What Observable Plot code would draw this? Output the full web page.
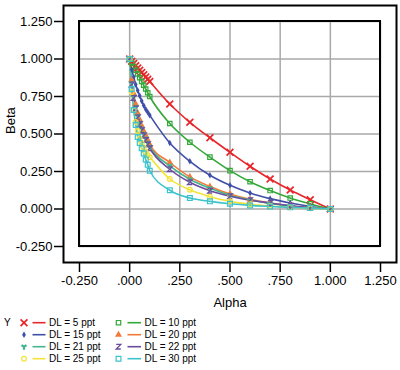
<!DOCTYPE html>
<html><head><meta charset="utf-8">
<script src="https://cdn.jsdelivr.net/npm/d3@7"></script>
<script src="https://cdn.jsdelivr.net/npm/@observablehq/plot@0.6"></script>
<style>body{margin:0;background:#fff;} #chart svg{display:block}</style>
</head><body><div id="chart"></div>
<script>
// ---- data ----
const alphas = [0, 0.01, 0.02, 0.03, 0.04, 0.05, 0.06, 0.07, 0.08, 0.09, 0.1, 0.2, 0.3, 0.4, 0.5, 0.6, 0.7, 0.8, 0.9, 1.0];
const seriesNames = ["DL = 5 ppt", "DL = 10 ppt", "DL = 15 ppt", "DL = 20 ppt", "DL = 21 ppt", "DL = 22 ppt", "DL = 25 ppt", "DL = 30 ppt"];
const beta5  = [1, 0.985, 0.97, 0.955, 0.94, 0.925, 0.91, 0.895, 0.88, 0.865, 0.85, 0.70, 0.578, 0.475, 0.378, 0.285, 0.20, 0.127, 0.062, 0];
const beta10 = [1, 0.975, 0.95, 0.925, 0.90, 0.875, 0.85, 0.825, 0.80, 0.775, 0.75, 0.57, 0.445, 0.346, 0.256, 0.182, 0.123, 0.073, 0.034, 0];
const beta15 = [1, 0.93, 0.88, 0.83, 0.79, 0.755, 0.72, 0.69, 0.665, 0.645, 0.625, 0.44, 0.318, 0.225, 0.158, 0.107, 0.069, 0.04, 0.017, 0];
const beta20 = [1, 0.86, 0.77, 0.70, 0.64, 0.595, 0.555, 0.52, 0.49, 0.46, 0.43, 0.31, 0.214, 0.15, 0.10, 0.064, 0.04, 0.022, 0.009, 0];
const beta21 = [1, 0.84, 0.75, 0.68, 0.62, 0.575, 0.535, 0.50, 0.47, 0.44, 0.415, 0.288, 0.198, 0.138, 0.092, 0.06, 0.037, 0.02, 0.008, 0];
const beta22 = [1, 0.83, 0.74, 0.67, 0.61, 0.565, 0.525, 0.49, 0.46, 0.43, 0.405, 0.265, 0.178, 0.122, 0.085, 0.058, 0.04, 0.022, 0.009, 0];
const beta25 = [1, 0.78, 0.66, 0.58, 0.52, 0.47, 0.44, 0.41, 0.38, 0.36, 0.345, 0.20, 0.128, 0.082, 0.051, 0.032, 0.02, 0.012, 0.005, 0];
const beta30 = [1, 0.80, 0.66, 0.56, 0.48, 0.44, 0.405, 0.37, 0.33, 0.295, 0.255, 0.125, 0.073, 0.051, 0.035, 0.024, 0.017, 0.011, 0.006, 0];
const seriesBetas = [beta5, beta10, beta15, beta20, beta21, beta22, beta25, beta30];
const xTicks = [-0.25, 0, 0.25, 0.5, 0.75, 1, 1.25];
const xTickLabels = ["-0.250", ".000", ".250", ".500", ".750", "1.000", "1.250"];
const yTicks = [-0.25, 0, 0.25, 0.5, 0.75, 1, 1.25];
const yTickLabels = ["-0.250", "0.000", "0.250", "0.500", "0.750", "1.000", "1.250"];
const xTitle = "Alpha";
const yTitle = "Beta";
const legendTitle = "Y";

// ---- styles ----
const colors = ["#e8262a", "#35a83a", "#3f4fa8", "#f2793a", "#45b58e", "#6b4c9e", "#f2e33a", "#3cc3cc"];
const zSymbol = {
  draw(ctx, size) {
    const r = Math.sqrt(size / Math.PI) * 0.95;
    ctx.moveTo(-r, -r); ctx.lineTo(r, -r); ctx.lineTo(-r, r); ctx.lineTo(r, r);
  }
};
const markStyles = [
  {symbol: "times", r: 3.2, fill: "none", strokeWidth: 1.7},
  {symbol: "square", r: 2.5, fill: "none", strokeWidth: 1.2},
  {symbol: "diamond", r: 2.0, filled: true},
  {symbol: "triangle", r: 2.6, filled: true},
  {symbol: "wye", r: 2.4, filled: true},
  {symbol: zSymbol, r: 2.4, fill: "none", strokeWidth: 1.3},
  {symbol: "circle", r: 2.4, fill: "none", strokeWidth: 1.2},
  {symbol: "square", r: 2.7, fill: "none", strokeWidth: 1.2}
];
const FONT = "'Liberation Sans', Arial, Helvetica, sans-serif";

const rows = [];
seriesNames.forEach((name, si) => {
  alphas.forEach((a, i) => rows.push({series: name, alpha: a, beta: seriesBetas[si][i]}));
});

const marks = [];
// grid lines inside inner frame
marks.push(Plot.ruleX(xTicks, {x: d => d, y1: yTicks[0], y2: yTicks[yTicks.length - 1], stroke: "#a9a9a9", strokeWidth: 1.5}));
marks.push(Plot.ruleY(yTicks, {y: d => d, x1: xTicks[0], x2: xTicks[xTicks.length - 1], stroke: "#a9a9a9", strokeWidth: 1.5}));
// series
seriesNames.forEach((name, si) => {
  const data = rows.filter(d => d.series === name);
  marks.push(Plot.line(data, {x: "alpha", y: "beta", stroke: colors[si], strokeWidth: 1.6, curve: "monotone-x"}));
});
seriesNames.forEach((name, si) => {
  const data = rows.filter(d => d.series === name);
  const ms = markStyles[si];
  const opts = {x: "alpha", y: "beta", symbol: ms.symbol, r: ms.r};
  if (ms.filled) { opts.fill = colors[si]; opts.stroke = "none"; }
  else { opts.fill = "none"; opts.stroke = colors[si]; opts.strokeWidth = ms.strokeWidth; }
  marks.push(Plot.dot(data, opts));
});
// inner frame
marks.push(Plot.rect([0], {x1: xTicks[0], x2: xTicks[xTicks.length - 1], y1: yTicks[0], y2: yTicks[yTicks.length - 1], fill: "none", stroke: "black", strokeWidth: 2}));
// outer frame
marks.push(Plot.frame({stroke: "black", strokeWidth: 2}));
// axes
marks.push(Plot.axisX({ticks: xTicks, tickFormat: d => xTickLabels[xTicks.indexOf(d)], tickSize: 10, tickPadding: 3, strokeWidth: 1.5, label: null, fontSize: 13}));
marks.push(Plot.axisY({ticks: yTicks, tickFormat: d => yTickLabels[yTicks.indexOf(d)], tickSize: 9, tickPadding: 2, strokeWidth: 1.5, label: null, fontSize: 13}));
// axis titles
marks.push(Plot.text([xTitle], {text: d => d, frameAnchor: "bottom", dy: 40, fontSize: 13, lineAnchor: "middle"}));
marks.push(Plot.text([yTitle], {text: d => d, frameAnchor: "left", dx: -53, rotate: -90, fontSize: 13, lineAnchor: "middle"}));

const chart = Plot.plot({
  width: 400,
  height: 314,
  marginTop: 5,
  marginLeft: 63,
  marginRight: 4,
  marginBottom: 52,
  x: {domain: [xTicks[0], xTicks[xTicks.length - 1]], inset: 16},
  y: {domain: [yTicks[0], yTicks[yTicks.length - 1]], inset: 16},
  style: {fontFamily: FONT, fontSize: "13px", color: "black", background: "white"},
  marks
});
document.getElementById("chart").appendChild(chart);

// ---- legend (below the chart) ----
const lg = d3.select("#chart").append("svg")
  .attr("width", 400).attr("height", 56)
  .style("display", "block")
  .style("font-family", FONT).style("font-size", "10px");
const rowY = i => 8.7 + 12 * i;
lg.append("text").attr("x", 4).attr("y", rowY(0)).attr("dominant-baseline", "central").text(legendTitle);
const symMap = {times: d3.symbolTimes, square: d3.symbolSquare, diamond: d3.symbolDiamond, triangle: d3.symbolTriangle, wye: d3.symbolWye, circle: d3.symbolCircle};
const colX = [{m: 24, l1: 32.5, l2: 45.5, t: 49}, {m: 118.5, l1: 127.5, l2: 141, t: 144.5}];
seriesNames.forEach((name, si) => {
  const c = colX[si % 2], y = rowY(Math.floor(si / 2));
  const ms = markStyles[si];
  const sym = typeof ms.symbol === "string" ? symMap[ms.symbol] : ms.symbol;
  const p = lg.append("path")
    .attr("transform", `translate(${c.m},${y})`)
    .attr("d", d3.symbol(sym, ms.r * ms.r * Math.PI)());
  if (ms.filled) p.attr("fill", colors[si]).attr("stroke", "none");
  else p.attr("fill", "none").attr("stroke", colors[si]).attr("stroke-width", ms.strokeWidth);
  lg.append("line").attr("x1", c.l1).attr("x2", c.l2).attr("y1", y).attr("y2", y)
    .attr("stroke", colors[si]).attr("stroke-width", 1.6);
  lg.append("text").attr("x", c.t).attr("y", y).attr("dominant-baseline", "central").text(name);
});
</script></body></html>
